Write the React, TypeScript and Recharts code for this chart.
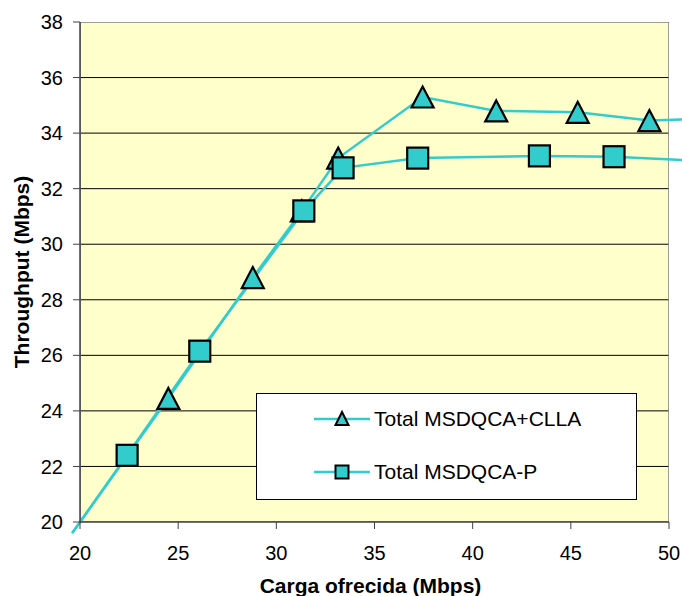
import React from "react";
import {
  LineChart,
  Line,
  XAxis,
  YAxis,
  CartesianGrid,
  ReferenceArea,
  Legend,
} from "recharts";

// Offered load (Mbps) vs. throughput (Mbps) for each scheme.
// The first and last points sit outside the axis range, so they only show as line stubs.
const clllaLoad = [19.6, 24.5, 28.8, 31.3, 33.15, 37.45, 41.2, 45.35, 49.0, 53.0];
const clllaThroughput = [19.6, 24.45, 28.8, 31.2, 33.1, 35.3, 34.8, 34.75, 34.45, 34.55];

const pLoad = [19.6, 22.4, 26.1, 31.4, 33.4, 37.2, 43.4, 47.2, 53.0];
const pThroughput = [19.6, 22.4, 26.15, 31.2, 32.75, 33.1, 33.18, 33.15, 32.95];

const xTicks = [20, 25, 30, 35, 40, 45, 50];
const yTicks = [20, 22, 24, 26, 28, 30, 32, 34, 36, 38];
const gridValues = [22, 24, 26, 28, 30, 32, 34, 36];

const SERIES_NAMES = ["Total MSDQCA+CLLA", "Total MSDQCA-P"];

const FONT = "'Liberation Sans', Arial, sans-serif";
const TEAL = "#33CCCC";
const X_MIN = 20;
const X_MAX = 50;

const clllaData = clllaLoad.map((x, i) => ({ x, y: clllaThroughput[i] }));
const pData = pLoad.map((x, i) => ({ x, y: pThroughput[i] }));

const inRange = (x: number) => x >= X_MIN && x <= X_MAX;

const TriangleDot = (props: any) => {
  const { cx, cy, payload, index } = props;
  if (!inRange(payload.x) || cx == null) return <g key={`t-${index}`} />;
  const h = 21;
  const w = 22;
  const top = cy - h / 2;
  return (
    <path
      key={`t-${index}`}
      d={`M${cx},${top} L${cx + w / 2},${top + h} L${cx - w / 2},${top + h} Z`}
      fill={TEAL}
      stroke="#000"
      strokeWidth={2.2}
      strokeLinejoin="miter"
    />
  );
};

const SquareDot = (props: any) => {
  const { cx, cy, payload, index } = props;
  if (!inRange(payload.x) || cx == null) return <g key={`s-${index}`} />;
  const s = 21;
  return (
    <rect
      key={`s-${index}`}
      x={cx - s / 2}
      y={cy - s / 2}
      width={s}
      height={s}
      fill={TEAL}
      stroke="#000"
      strokeWidth={2.2}
    />
  );
};

const LegendMarker = ({ kind }: { kind: "triangle" | "square" }) => (
  <svg width={58} height={20} style={{ display: "block" }}>
    <line x1={0} y1={10} x2={56} y2={10} stroke={TEAL} strokeWidth={2.5} />
    {kind === "triangle" ? (
      <path d="M28,3 L34.5,16 L21.5,16 Z" fill={TEAL} stroke="#000" strokeWidth={2} />
    ) : (
      <rect x={21.5} y={3.5} width={13} height={13} fill={TEAL} stroke="#000" strokeWidth={2} />
    )}
  </svg>
);

const LegendBox = () => (
  <div
    style={{
      boxSizing: "border-box",
      width: 381,
      height: 107,
      background: "#fff",
      border: "1px solid #000",
      position: "relative",
      fontFamily: FONT,
      fontSize: 21,
      color: "#000",
    }}
  >
    {SERIES_NAMES.map((name, i) => (
      <div
        key={name}
        style={{
          position: "absolute",
          left: 57,
          top: i === 0 ? 15 : 68,
          display: "flex",
          alignItems: "center",
          height: 20,
          whiteSpace: "nowrap",
        }}
      >
        <LegendMarker kind={i === 0 ? "triangle" : "square"} />
        <span style={{ marginLeft: 2 }}>{name}</span>
      </div>
    ))}
  </div>
);

export default function App() {
  return (
    <div style={{ position: "absolute", left: 0, top: 0, width: 682, height: 596, background: "#fff" }}>
      <style>{`.recharts-line, .recharts-line * { clip-path: none !important; }`}</style>
      <LineChart
        width={682}
        height={596}
        margin={{ top: 22, right: 13, left: 0, bottom: 0 }}
        style={{ fontFamily: FONT }}
      >
        <CartesianGrid
          vertical={false}
          horizontalValues={gridValues}
          stroke="#000"
          strokeOpacity={1}
          fill="#FFFFCC"
          fillOpacity={1}
        />
        <ReferenceArea
          x1={X_MIN}
          x2={X_MAX}
          y1={20}
          y2={38}
          fill="none"
          stroke="#808080"
          strokeWidth={1.5}
          ifOverflow="hidden"
        />
        <XAxis
          type="number"
          dataKey="x"
          domain={[X_MIN, X_MAX]}
          ticks={xTicks}
          allowDataOverflow
          height={74}
          tickSize={7}
          tickMargin={17}
          axisLine={{ stroke: "#404040", strokeWidth: 1.5 }}
          tickLine={{ stroke: "#404040", strokeWidth: 1 }}
          tick={{ fill: "#000", fontSize: 20, fontFamily: FONT }}
          label={{
            value: "Carga ofrecida (Mbps)",
            position: "center",
            dx: -4,
            dy: 27,
            style: { fill: "#000", fontSize: 21, fontWeight: "bold", fontFamily: FONT },
          }}
        />
        <YAxis
          type="number"
          dataKey="y"
          domain={[20, 38]}
          ticks={yTicks}
          allowDataOverflow
          width={80}
          tickSize={7}
          tickMargin={10}
          axisLine={{ stroke: "#404040", strokeWidth: 1.5 }}
          tickLine={{ stroke: "#404040", strokeWidth: 1 }}
          tick={{ fill: "#000", fontSize: 20, fontFamily: FONT }}
          label={{
            value: "Throughput (Mbps)",
            angle: -90,
            position: "center",
            dx: -18,
            style: { fill: "#000", fontSize: 21, fontWeight: "bold", fontFamily: FONT, textAnchor: "middle" },
          }}
        />
        <Legend
          layout="horizontal"
          verticalAlign="middle"
          align="center"
          wrapperStyle={{ left: 256, top: 393, width: 381, height: 107 }}
          content={() => <LegendBox />}
        />
        <Line
          data={clllaData}
          dataKey="y"
          name={SERIES_NAMES[0]}
          type="linear"
          stroke={TEAL}
          strokeWidth={2.5}
          dot={TriangleDot}
          activeDot={false}
          isAnimationActive={false}
        />
        <Line
          data={pData}
          dataKey="y"
          name={SERIES_NAMES[1]}
          type="linear"
          stroke={TEAL}
          strokeWidth={2.5}
          dot={SquareDot}
          activeDot={false}
          isAnimationActive={false}
        />
      </LineChart>
    </div>
  );
}
